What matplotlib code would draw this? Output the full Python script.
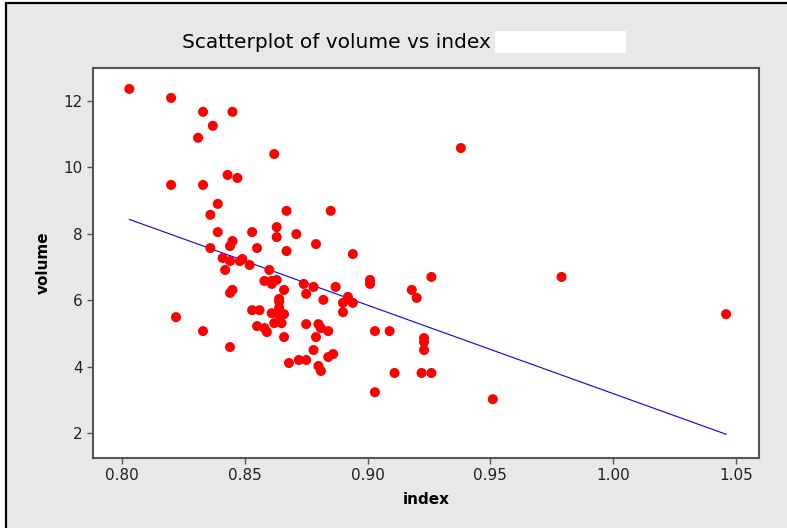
import matplotlib.pyplot as plt
import numpy as np
from matplotlib.patches import Rectangle

# valeurs
index = [0.803, 0.820, 0.833, 0.845, 0.837, 0.831, 0.862, 0.938, 0.820, 0.833,
         0.843, 0.847, 0.839, 0.836, 0.867, 0.885, 0.839, 0.853, 0.863, 0.863,
         0.871, 0.845, 0.844, 0.836, 0.855, 0.867, 0.879, 0.894, 0.841, 0.844,
         0.849, 0.848, 0.852, 0.842, 0.860, 0.858, 0.861, 0.863, 0.861, 0.874,
         0.875, 0.878, 0.887, 0.901, 0.901, 0.926, 0.918, 0.920, 0.979, 1.046,
         0.866, 0.864, 0.864, 0.882, 0.892, 0.890, 0.894, 0.890, 0.845, 0.844,
         0.853, 0.856, 0.864, 0.861, 0.864, 0.866, 0.862, 0.865, 0.875, 0.880,
         0.881, 0.855, 0.858, 0.859, 0.884, 0.879, 0.866, 0.833, 0.822, 0.844,
         0.878, 0.884, 0.886, 0.872, 0.875, 0.868, 0.880, 0.881, 0.903, 0.909,
         0.923, 0.923, 0.923, 0.922, 0.926, 0.911, 0.903, 0.951]
volume = [12.36, 12.09, 11.67, 11.67, 11.25, 10.89, 10.40, 10.58, 9.47, 9.47,
          9.77, 9.68, 8.90, 8.57, 8.69, 8.69, 8.05, 8.05, 8.20, 7.90,
          7.99, 7.78, 7.63, 7.57, 7.57, 7.48, 7.69, 7.39, 7.27, 7.18,
          7.24, 7.18, 7.06, 6.91, 6.91, 6.58, 6.58, 6.61, 6.49, 6.49,
          6.19, 6.40, 6.40, 6.61, 6.49, 6.70, 6.31, 6.07, 6.70, 5.58,
          6.31, 6.04, 5.95, 6.01, 6.10, 5.92, 5.92, 5.64, 6.31, 6.22,
          5.70, 5.70, 5.77, 5.61, 5.55, 5.58, 5.31, 5.31, 5.28, 5.28,
          5.16, 5.22, 5.16, 5.04, 5.07, 4.89, 4.89, 5.07, 5.49, 4.59,
          4.50, 4.29, 4.38, 4.20, 4.20, 4.11, 4.02, 3.87, 5.07, 5.07,
          4.86, 4.74, 4.50, 3.81, 3.81, 3.81, 3.23, 3.02]

xticks = [0.80, 0.85, 0.90, 0.95, 1.00, 1.05]
yticks = [2, 4, 6, 8, 10, 12]

fig = plt.figure(figsize=(7.87, 5.28), dpi=100)
fig.patch.set_facecolor("white")
# cadre gris facon Minitab
fig.patches.append(Rectangle((6 / 787, -0.05), 1.0, 1.05 - 3 / 528,
                             transform=fig.transFigure, facecolor="#e8e8e8",
                             edgecolor="black", lw=1.6, zorder=-1))

ax = fig.add_axes([93 / 787, 70 / 528, 666 / 787, 390 / 528])
ax.set_facecolor("white")
ax.scatter(index, volume, s=52, color="red", edgecolors="none", zorder=3)

# droite de regression
pente, origine = np.polyfit(index, volume, 1)
xs = np.array([min(index), max(index)])
ax.plot(xs, origine + pente * xs, color="blue", lw=0.8, zorder=2)

ax.set_xlim(0.7882, 1.0594)
ax.set_ylim(1.25, 12.99)
ax.set_xticks(xticks)
ax.set_xticklabels(["%.2f" % v for v in xticks])
ax.set_yticks(yticks)
for cote in ["left", "bottom", "top", "right"]:
    ax.spines[cote].set_color("#555555")
    ax.spines[cote].set_linewidth(1.5)
ax.tick_params(colors="#555555", labelcolor="#222222", labelsize=11, length=4, width=1)

ax.set_xlabel("index", fontsize=11, fontweight="bold", labelpad=6)
ax.set_ylabel("volume", fontsize=11, fontweight="bold", labelpad=9)

fig.text(336 / 787, 1 - 43 / 528, "Scatterplot of volume vs index",
         ha="center", va="center", fontsize=14.5)
fig.patches.append(Rectangle((495 / 787, 1 - 53 / 528), 131 / 787, 22 / 528,
                             transform=fig.transFigure, facecolor="white",
                             edgecolor="none"))

fig.savefig("out.png", dpi=100)
